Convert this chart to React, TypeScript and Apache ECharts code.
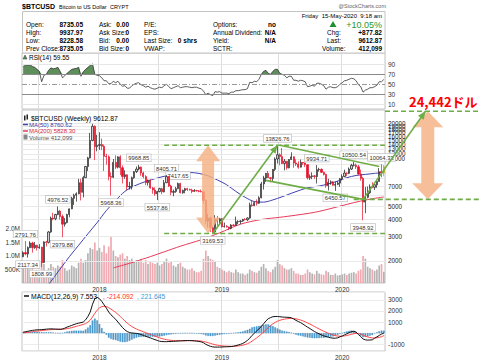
import React, { useEffect, useRef } from "react";
import * as echarts from "echarts";

const FF = "'Liberation Sans', Arial, sans-serif";
const JP = "'Noto Sans CJK JP', 'Liberation Sans', sans-serif";

const START_UTC = Date.UTC(2017, 4, 15);
const WEEK_MS = 7 * 24 * 3600 * 1000;
const N = 157;
const weeks: string[] = Array.from({ length: N }, (_, i) =>
  new Date(START_UTC + i * WEEK_MS).toISOString().slice(0, 10)
);

const opens = [
  2150, 2300, 2250, 2500, 2700, 2500, 2600, 2500, 2520, 1950,
  2750, 2730, 3250, 4100, 4050, 4350, 4600, 4200, 3700, 3800,
  4350, 4780, 5700, 6000, 6150, 7400, 6300, 8050, 9700, 11200,
  15000, 19000, 13500, 13800, 14000, 13600, 11500, 11400, 8200, 8100,
  10400, 9600, 11400, 9500, 8200, 8450, 6900, 6950, 8050, 8900,
  9300, 9600, 8700, 8200, 7400, 7700, 6780, 6550, 6150, 6380,
  6700, 6350, 7400, 8200, 7000, 6300, 6400, 6700, 7300, 6250,
  6500, 6700, 6600, 6550, 6400, 6500, 6450, 6400, 6350, 5500,
  3900, 4100, 3500, 3250, 4000, 3900, 4050, 3550, 3560, 3530,
  3450, 3650, 3620, 3850, 3870, 3900, 4000, 3980, 4100, 5100,
  5050, 5300, 5250, 5750, 7250, 8000, 8650, 8050, 7950, 9250,
  11000, 11800, 11450, 10200, 10600, 9500, 10900, 11400, 10300, 10100,
  9600, 10400, 10300, 10000, 8050, 8200, 8300, 8200, 9200, 9250,
  8800, 8500, 7050, 7450, 7500, 7100, 7200, 7350, 7900, 8200,
  8700, 8650, 9300, 9900, 9920, 9650, 8550, 7950, 5350, 5800,
  6250, 6900, 6850, 7150, 7550, 8900, 8735.05,
];
const highs = [
  2350, 2791.76, 2550, 2780, 2760, 2750, 2620, 2650, 2540, 2780,
  2800, 3300, 4200, 4480, 4400, 4976.52, 4700, 4350, 4100, 4400,
  4800, 5850, 6150, 6300, 7900, 7900, 8300, 9800, 11400, 17000,
  19800, 19300, 16500, 17200, 15500, 14000, 12000, 11700, 8800, 11000,
  11700, 11500, 11700, 9900, 9100, 8500, 7500, 8200, 9000, 9700,
  9968.85, 9700, 8900, 8400, 7800, 7780, 6900, 6850, 6450, 6800,
  6800, 7750, 8405.71, 8250, 7150, 6600, 6900, 7417.65, 7400, 6600,
  6800, 6800, 6700, 6700, 6650, 6550, 6550, 6600, 6400, 5600,
  4400, 4200, 3600, 4300, 4250, 4100, 4100, 3800, 3650, 3550,
  3700, 3700, 4200, 3950, 3950, 4050, 4100, 4150, 5300, 5450,
  5400, 5600, 5900, 7500, 8300, 8700, 9000, 8100, 9300, 11300,
  13826.76, 12100, 13200, 11000, 10650, 11000, 12300, 11500, 10950, 10600,
  10900, 10450, 10350, 10050, 8500, 8800, 8400, 9934.71, 9500, 9400,
  8900, 8600, 7900, 7700, 7600, 7500, 7600, 8000, 8500, 9200,
  8800, 9550, 10150, 10500.54, 10200, 9950, 9200, 8150, 6900, 6950,
  7200, 7450, 7250, 7700, 9450, 10064.33, 9937.97,
];
const lows = [
  2130, 2200, 2117.34, 2480, 2300, 2450, 2380, 2450, 1808.99, 1930,
  2550, 2680, 3200, 3950, 3950, 4300, 4000, 2979.88, 3550, 3750,
  4150, 4750, 5100, 5400, 6100, 5500, 5800, 8000, 9000, 11100,
  14800, 10800, 12500, 12800, 12800, 9000, 10000, 7700, 5968.36, 8000,
  9300, 9400, 8400, 7300, 7900, 6550, 6600, 6600, 7900, 8700,
  9100, 8300, 7950, 7100, 7050, 6700, 6150, 5950, 5537.86, 6300,
  6100, 6300, 7350, 6900, 6000, 5900, 6250, 6650, 6200, 6150,
  6200, 6450, 6500, 6200, 6350, 6400, 6300, 6300, 5200, 3700,
  3500, 3250, 3169.53, 3200, 3600, 3700, 3500, 3500, 3500, 3350,
  3400, 3580, 3600, 3700, 3700, 3850, 3950, 3900, 4050, 4950,
  5000, 5050, 5200, 5700, 6600, 7500, 8000, 7450, 7550, 9000,
  10200, 9900, 10100, 9100, 9200, 9400, 10850, 9500, 9800, 9350,
  9550, 9950, 9600, 7800, 7750, 7850, 7900, 7300, 8900, 8700,
  8350, 6800, 6500, 7150, 7050, 6450.57, 7100, 6900, 7700, 8100,
  8250, 8550, 9150, 9700, 9300, 8450, 7650, 3948.92, 4450, 5700,
  6150, 6750, 6550, 6800, 7550, 8100, 8228.58,
];
const closes = [
  2300, 2250, 2500, 2700, 2500, 2600, 2500, 2520, 1950, 2750,
  2730, 3250, 4100, 4050, 4350, 4600, 4200, 3700, 3800, 4350,
  4780, 5700, 6000, 6150, 7400, 6300, 8050, 9700, 11200, 15000,
  19000, 13500, 13800, 14000, 13600, 11500, 11400, 8200, 8100, 10400,
  9600, 11400, 9500, 8200, 8450, 6900, 6950, 8050, 8900, 9300,
  9600, 8700, 8200, 7400, 7700, 6780, 6550, 6150, 6380, 6700,
  6350, 7400, 8200, 7000, 6300, 6400, 6700, 7300, 6250, 6500,
  6700, 6600, 6550, 6400, 6500, 6450, 6400, 6350, 5500, 3900,
  4100, 3500, 3250, 4000, 3900, 4050, 3550, 3560, 3530, 3450,
  3650, 3620, 3850, 3870, 3900, 4000, 3980, 4100, 5100, 5050,
  5300, 5250, 5750, 7250, 8000, 8650, 8050, 7950, 9250, 11000,
  11800, 11450, 10200, 10600, 9500, 10900, 11400, 10300, 10100, 9600,
  10400, 10300, 10000, 8050, 8200, 8300, 8200, 9200, 9250, 8800,
  8500, 7050, 7450, 7500, 7100, 7200, 7350, 7900, 8200, 8700,
  8650, 9300, 9900, 9920, 9650, 8550, 7950, 5350, 5800, 6250,
  6900, 6850, 7150, 7550, 8900, 8735.05, 9612.87,
];
// weekly volume, thousands
const volumesK = [
  600, 700, 550, 500, 650, 450, 400, 420, 800, 700,
  450, 550, 700, 600, 550, 650, 600, 850, 550, 450,
  500, 650, 600, 550, 750, 900, 750, 850, 1100, 1300,
  1250, 1500, 1200, 1300, 1150, 1400, 1100, 1350, 1700, 1200,
  1000, 950, 1050, 1100, 900, 1000, 850, 900, 800, 850,
  800, 900, 750, 850, 700, 800, 750, 700, 750, 650,
  700, 800, 900, 750, 800, 650, 600, 700, 750, 600,
  550, 500, 500, 550, 450, 400, 400, 450, 900, 1200,
  1000, 900, 850, 800, 600, 550, 500, 450, 400, 450,
  400, 380, 500, 400, 350, 350, 300, 350, 500, 450,
  400, 380, 450, 600, 700, 550, 450, 400, 500, 600,
  850, 700, 650, 550, 500, 500, 550, 450, 350, 350,
  300, 300, 350, 500, 400, 350, 320, 450, 350, 320,
  300, 450, 400, 300, 300, 350, 280, 300, 320, 350,
  300, 350, 380, 400, 350, 450, 500, 1000, 900, 600,
  550, 500, 450, 500, 650, 700, 412.099,
];
const rsi = [
  86, 88, 89, 89, 86, 84, 80, 76, 55, 68,
  70, 78, 83, 81, 82, 84, 76, 63, 67, 72,
  76, 80, 81, 82, 84, 66, 75, 80, 84, 88,
  91, 70, 68, 67, 63, 57, 57, 51, 51, 56,
  53, 56, 50, 46, 47, 42, 42, 47, 50, 52,
  53, 49, 47, 44, 46, 43, 41, 40, 42, 44,
  43, 47, 50, 45, 41, 43, 45, 47, 43, 44,
  45, 45, 44, 43, 44, 44, 42, 41, 36, 29,
  32, 29, 27, 35, 34, 35, 32, 32, 32, 31,
  34, 34, 37, 37, 38, 39, 39, 41, 54, 53,
  56, 55, 60, 70, 76, 78, 72, 70, 76, 80,
  80, 72, 70, 68, 63, 66, 66, 58, 58, 56,
  58, 57, 55, 45, 46, 48, 46, 52, 52, 50,
  47, 40, 44, 45, 43, 43, 45, 50, 53, 57,
  58, 60, 62, 61, 57, 49, 45, 34, 38, 40,
  43, 43, 45, 48, 55, 55, 59.55,
];
const macd = [
  90, 130, 170, 210, 250, 280, 300, 310, 320, 340,
  360, 380, 390, 380, 370, 360, 350, 380, 450, 550,
  620, 700, 780, 850, 900, 950, 1000, 1200, 1500, 1900,
  2600, 3100, 3220, 3100, 2850, 2550, 2250, 1900, 1650, 1450,
  1250, 1000, 750, 500, 300, 150, 60, 20, 0, -20,
  -60, -120, -200, -280, -350, -420, -500, -580, -650, -720,
  -750, -760, -760, -750, -740, -730, -720, -700, -690, -680,
  -670, -660, -660, -670, -690, -710, -740, -780, -860, -1000,
  -1100, -1180, -1230, -1250, -1250, -1250, -1240, -1230, -1220, -1210,
  -1200, -1170, -1120, -1060, -1000, -920, -800, -650, -450, -200,
  0, 200, 400, 600, 850, 1100, 1300, 1400, 1480, 1500,
  1500, 1480, 1450, 1440, 1430, 1420, 1380, 1280, 1150, 1050,
  950, 820, 680, 540, 420, 280, 150, 40, -60, -150,
  -240, -300, -360, -410, -450, -450, -420, -330, -250, -150,
  -50, 50, 140, 170, 100, -120, -300, -520, -600, -620,
  -610, -600, -450, -330, -200, -80, 7.553,
];
const signal = [
  34, 53, 76, 103, 132, 162, 190, 214, 235, 256,
  277, 298, 316, 329, 337, 342, 344, 351, 371, 407,
  450, 500, 556, 615, 672, 728, 782, 866, 993, 1174,
  1459, 1787, 2074, 2279, 2393, 2424, 2389, 2291, 2163, 2020,
  1866, 1693, 1504, 1303, 1102, 912, 742, 598, 478, 378,
  290, 208, 126, 45, -34, -111, -189, -267, -344, -419,
  -485, -540, -584, -617, -642, -660, -672, -678, -680, -680,
  -678, -674, -671, -671, -675, -682, -694, -711, -741, -793,
  -854, -919, -981, -1035, -1078, -1112, -1138, -1156, -1169, -1177,
  -1182, -1180, -1168, -1146, -1117, -1078, -1022, -948, -848, -718,
  -575, -420, -256, -85, 102, 302, 501, 681, 841, 973,
  1078, 1158, 1217, 1261, 1295, 1320, 1332, 1322, 1287, 1240,
  1182, 1110, 1024, 927, 826, 717, 603, 491, 381, 275,
  172, 78, -10, -90, -162, -220, -260, -274, -269, -245,
  -206, -155, -96, -43, -14, -35, -88, -174, -260, -332,
  -387, -430, -434, -413, -371, -313, -214.092,
];
// moving averages read at sampled weeks: [weekIndex, value]
const ma50Pts = [
  [8, 1150], [12, 1420], [16, 1750], [20, 2150], [24, 2600], [28, 3150], [32, 3800],
  [36, 4650], [40, 5500], [44, 6400], [48, 7000], [53, 7550], [58, 8000], [63, 8380],
  [68, 8650], [72, 8780], [76, 8650], [80, 8300], [84, 7750], [88, 7150], [92, 6400],
  [96, 5800], [100, 5400], [104, 5350], [108, 5550], [112, 5850], [116, 6200], [120, 6550],
  [124, 6850], [128, 7000], [132, 7250], [136, 7600], [140, 8050], [144, 8350], [148, 8500],
  [152, 8650], [156, 8760.62],
];
const ma200Pts = [
  [39, 1782], [44, 1880], [48, 1970], [55, 2150], [61, 2330], [68, 2560], [77, 2850],
  [85, 3200], [94, 3700], [103, 4000], [111, 4150], [118, 4300], [124, 4450], [128, 4580],
  [134, 4850], [140, 5150], [146, 5450], [152, 5700], [156, 5828.3],
];

const priceTicks = [2000, 3000, 4000, 5000, 6000, 7000, 8000, 9000, 10000, 11000, 12000, 13000, 14000, 15000, 16000, 17000, 18000, 19000, 20000];
// tick labels hidden behind the last-value boxes in the reference
const priceTicksCovered = [6000, 8000, 9000, 10000];
const rsiTicks = [10, 30, 50, 70, 90];
const macdTicks = [-1000, 1000, 2000, 3000];
const volTickValues = [500000, 1000000, 1500000, 2000000];
const volTickLabels = ["500K", "1.0M", "1.5M", "2.0M"];

const swingIdx = [1, 2, 8, 15, 17, 38, 50, 58, 62, 67, 82, 110, 127, 135, 143, 147, 155];
const swingPos = ["top", "bottom", "bottom", "top", "bottom", "bottom", "top", "bottom", "top", "top", "bottom", "top", "top", "bottom", "top", "bottom", "top"];

// drawn annotation (measured move)
const moveTop = 13826.76;
const moveBottom = 3169.53;
const targetTop = 24442;
const targetBase = 5603;
const upperChannel = [[111, 13826.76], [154, 9700]];
const lowerChannel = [[105, 7690], [147, 5603]];

function isFirstWeekOf(i: number, months: number[]) {
  if (i <= 0) return false;
  const m = +weeks[i].slice(5, 7) - 1;
  const pm = +weeks[i - 1].slice(5, 7) - 1;
  return months.includes(m) && m !== pm;
}

function xAxis(gi: number, labels: boolean) {
  return {
    type: "category",
    gridIndex: gi,
    data: weeks,
    boundaryGap: true,
    axisLine: { show: false },
    axisTick: { show: false },
    axisLabel: {
      show: labels,
      interval: (i: number) => isFirstWeekOf(i, [0]),
      formatter: (v: string) => v.slice(0, 4),
      fontSize: 6.5,
      color: "#333",
      margin: 3,
      fontFamily: FF,
    },
    splitLine: {
      show: true,
      interval: (i: number) => isFirstWeekOf(i, [0, 6]),
      lineStyle: { color: "#dddddd", width: 1 },
    },
  };
}

function box(value: number, text: string, border: string, color: string, dy = 0, bold = false) {
  return {
    yAxis: value,
    lineStyle: { width: 0, opacity: 0 },
    label: {
      show: true,
      position: "end",
      formatter: text,
      color,
      fontSize: 6.5,
      fontFamily: FF,
      fontWeight: bold ? "bold" : "normal",
      backgroundColor: "#ffffff",
      borderColor: border,
      borderWidth: 1,
      borderRadius: 1,
      padding: [1, 2, 0, 2],
      distance: -2,
      offset: [0, dy],
    },
  };
}

function hline(value: number, color: string, type: any = "solid", width = 1) {
  return { yAxis: value, lineStyle: { color, type, width }, label: { show: false } };
}

function buildOption(): any {
  const candleData = weeks.map((_, i) => {
    const v = [opens[i], closes[i], lows[i], highs[i]];
    if (i === N - 1) {
      return { value: v, itemStyle: { color: "#ffe800", color0: "#ffe800", borderColor: "#b89c00", borderColor0: "#b89c00" } };
    }
    return v;
  });
  return {
    animation: false,
    backgroundColor: "#ffffff",
    textStyle: { fontFamily: FF },
    grid: [
      { left: 22, right: 95, top: 53, height: 56, show: true, borderColor: "#c4c4c4", borderWidth: 1, backgroundColor: "transparent" },
      { left: 22, right: 95, top: 110, height: 173, show: true, borderColor: "#c4c4c4", borderWidth: 1, backgroundColor: "transparent" },
      { left: 22, right: 95, top: 292, height: 59, show: true, borderColor: "#c4c4c4", borderWidth: 1, backgroundColor: "transparent" },
    ],
    xAxis: [xAxis(0, false), xAxis(1, true), xAxis(2, true)],
    yAxis: [
      {
        gridIndex: 0, type: "value", position: "right", min: 0, max: 113, interval: 10,
        axisLine: { show: false }, axisTick: { show: false }, splitLine: { show: false },
        axisLabel: { formatter: (v: number) => (rsiTicks.includes(v) ? String(v) : ""), fontSize: 6.5, color: "#333", margin: 3, showMaxLabel: false, fontFamily: FF },
      },
      {
        gridIndex: 1, type: "log", logBase: 10, position: "right", min: 1384, max: 24950,
        axisLine: { show: false }, axisTick: { show: false }, splitLine: { show: false }, axisLabel: { show: false },
      },
      {
        gridIndex: 1, type: "value", position: "left", min: 0, max: 6400000, interval: 500000,
        axisLine: { show: false }, axisTick: { show: false }, splitLine: { show: false },
        axisLabel: {
          formatter: (v: number) => { const k = volTickValues.indexOf(v); return k >= 0 ? volTickLabels[k] : ""; },
          fontSize: 6.5, color: "#333", margin: 2, showMaxLabel: false, fontFamily: FF,
        },
      },
      {
        gridIndex: 2, type: "value", position: "right", min: -1600, max: 3700, splitNumber: 5,
        axisLine: { show: false }, axisTick: { show: false },
        splitLine: { show: true, lineStyle: { color: "#ececec" } },
        axisLabel: { formatter: (v: number) => (macdTicks.includes(v) ? String(v) : ""), fontSize: 6.5, color: "#333", margin: 3, showMaxLabel: false, showMinLabel: false, fontFamily: FF },
      },
    ],
    series: [
      { type: "line", xAxisIndex: 0, yAxisIndex: 0, stack: "rsi", data: rsi.map(() => 70), symbol: "none", lineStyle: { opacity: 0 }, silent: true, z: 2 },
      { type: "line", xAxisIndex: 0, yAxisIndex: 0, stack: "rsi", data: rsi.map((v) => Math.max(v - 70, 0)), symbol: "none", lineStyle: { opacity: 0 }, areaStyle: { color: "#5e8f5b", opacity: 1 }, silent: true, z: 2 },
      {
        type: "line", xAxisIndex: 0, yAxisIndex: 0, data: rsi, symbol: "none", lineStyle: { color: "#333", width: 0.8 }, silent: true, z: 3,
        markLine: {
          silent: true, symbol: ["none", "none"],
          data: [hline(90, "#e6e6e6"), hline(10, "#e6e6e6"), hline(70, "#8a8a8a"), hline(30, "#8a8a8a"), hline(50, "#9a9a9a", [5, 2, 1, 2]), box(59.55, "59.55", "#555", "#000")],
        },
      },
      {
        type: "bar", xAxisIndex: 1, yAxisIndex: 2, barWidth: "72%", silent: true, z: 1,
        data: volumesK.map((v, i) => ({ value: v * 1000, itemStyle: { color: closes[i] >= opens[i] ? "#b3b3b3" : "#f0a9b0" } })),
        markLine: { silent: true, symbol: ["none", "none"], data: [box(412099, "412099", "#333", "#000")] },
      },
      {
        type: "line", xAxisIndex: 1, yAxisIndex: 1, data: ma200Pts, symbol: "none", smooth: 0.3, silent: true, z: 4,
        lineStyle: { color: "#e83a5a", width: 1 },
        markLine: { silent: true, symbol: ["none", "none"], data: [box(5828.3, "5828.30", "#e83a5a", "#c02040")] },
      },
      {
        type: "line", xAxisIndex: 1, yAxisIndex: 1, data: ma50Pts, symbol: "none", smooth: 0.3, silent: true, z: 4,
        lineStyle: { color: "#4040b0", width: 1 },
        markLine: { silent: true, symbol: ["none", "none"], data: [box(8760.62, "8760.62", "#4040b0", "#3030a0", 5)] },
      },
      {
        type: "candlestick", xAxisIndex: 1, yAxisIndex: 1, data: candleData, barWidth: 1.7, silent: true, z: 5,
        itemStyle: { color: "#cfcfcf", color0: "#e8102a", borderColor: "#1a1a1a", borderColor0: "#e8102a", borderWidth: 0.7 },
        markLine: {
          silent: true, symbol: ["none", "none"],
          data: [
            ...priceTicks.map((v) => ({
              yAxis: v,
              lineStyle: { color: "#e9e9e9", width: 1, type: "solid" },
              label: { show: !priceTicksCovered.includes(v), position: "end", formatter: String(v), color: "#222", fontSize: 6.3, distance: 3, fontFamily: FF },
            })),
            box(9612.87, "9612.87", "#000", "#000", -1, true),
          ],
        },
        markPoint: {
          silent: true, symbol: "circle", symbolSize: 1, itemStyle: { color: "rgba(0,0,0,0)" },
          label: { show: true, fontSize: 5.8, color: "#333", backgroundColor: "#ffffff", borderColor: "#b5b5b5", borderWidth: 0.6, padding: [1, 1.5, 0, 1.5], fontFamily: FF },
          data: swingIdx.map((ix, k) => {
            const v = swingPos[k] === "top" ? highs[ix] : lows[ix];
            return { coord: [ix, v], value: v, label: { position: swingPos[k], distance: 3, formatter: v.toFixed(2) } };
          }),
        },
      },
      {
        type: "bar", xAxisIndex: 2, yAxisIndex: 3, barWidth: "70%", silent: true, z: 2,
        data: macd.map((m, i) => +(m - signal[i]).toFixed(3)),
        itemStyle: { color: "#4d9fd3", borderColor: "#2f7fb3", borderWidth: 0.3 },
      },
      {
        type: "line", xAxisIndex: 2, yAxisIndex: 3, data: signal, symbol: "none", silent: true, z: 3,
        lineStyle: { color: "#ff4848", width: 1 },
        markLine: { silent: true, symbol: ["none", "none"], data: [box(-214.092, "-214.092", "#ff4848", "#e02020", 3)] },
      },
      {
        type: "line", xAxisIndex: 2, yAxisIndex: 3, data: macd, symbol: "none", silent: true, z: 4,
        lineStyle: { color: "#111", width: 1 },
        markLine: { silent: true, symbol: ["none", "none"], data: [box(221.645, "221.645", "#5aa6d8", "#333", -1), box(7.553, "7.553", "#777", "#000", 2)] },
      },
    ],
  };
}

function T(text: string, x: number, y: number, o: any = {}) {
  const font = `${o.bold ? "bold " : ""}${o.size ?? 7}px ${o.family ?? FF}`;
  return {
    type: "text", z: 60, silent: true,
    style: {
      text, x, y, font, fill: o.fill ?? "#000",
      textAlign: o.align ?? "left", textVerticalAlign: "middle",
      align: o.align ?? "left", verticalAlign: "middle",
    },
  };
}

function dblArrow(cx: number, ty: number, by: number, hw: number, sw: number, hl: number) {
  return {
    type: "polygon", z: 40, silent: true,
    shape: {
      points: [
        [cx, ty], [cx + hw / 2, ty + hl], [cx + sw / 2, ty + hl], [cx + sw / 2, by - hl], [cx + hw / 2, by - hl],
        [cx, by], [cx - hw / 2, by - hl], [cx - sw / 2, by - hl], [cx - sw / 2, ty + hl], [cx - hw / 2, ty + hl],
      ],
    },
    style: { fill: "#f4b183", opacity: 0.82 },
  };
}

function gline(a: number[], b: number[], dash = false) {
  return {
    type: "line", z: 45, silent: true,
    shape: { x1: a[0], y1: a[1], x2: b[0], y2: b[1] },
    style: { stroke: "#6fad47", lineWidth: 1.6, lineDash: dash ? [5, 3] : null },
  };
}

function head(a: number[], b: number[]) {
  const dx = b[0] - a[0], dy = b[1] - a[1];
  const L = Math.hypot(dx, dy) || 1;
  const ux = dx / L, uy = dy / L;
  const len = 8, w = 7;
  const bx = b[0] - ux * len, by = b[1] - uy * len;
  return {
    type: "polygon", z: 46, silent: true,
    shape: { points: [[b[0], b[1]], [bx - (uy * w) / 2, by + (ux * w) / 2], [bx + (uy * w) / 2, by - (ux * w) / 2]] },
    style: { fill: "#6fad47" },
  };
}

function buildGraphics(chart: any) {
  const p = (i: number, v: number) => chart.convertToPixel({ xAxisIndex: 1, yAxisIndex: 1 }, [i, v]) as number[];
  const R = 385;
  const yTop = p(0, moveTop)[1];
  const yBot = p(0, moveBottom)[1];
  const yTarget = p(0, targetTop)[1];
  const yBase = p(0, targetBase)[1];
  const a1s = p(82, moveBottom);
  const a1e = p(110, moveTop);
  const uc0 = p(upperChannel[0][0], upperChannel[0][1]);
  const uc1 = p(upperChannel[1][0], upperChannel[1][1]);
  const lc0 = p(lowerChannel[0][0], lowerChannel[0][1]);
  const lc1 = p(lowerChannel[1][0], lowerChannel[1][1]);
  const a2e = p(174, targetTop);
  const xDash = p(61, moveTop)[0];
  const xBaseDash = p(143, targetBase)[0];
  const xLeftArrow = p(80, moveTop)[0];
  const xRightArrow = p(175, targetTop)[0];

  const g: any[] = [];
  // header
  g.push(T("$BTCUSD", 22, 6, { bold: true, size: 7 }));
  g.push(T("Bitcoin to US Dollar", 59, 6.5, { size: 5.5 }));
  g.push(T("CRYPT", 110, 6.5, { size: 5.5 }));
  g.push(T("@StockCharts.com", 386, 5.5, { size: 5.5, fill: "#666", align: "right" }));
  g.push({ type: "rect", z: 10, silent: true, shape: { x: 22.5, y: 11.5, width: 362.5, height: 41.5 }, style: { fill: "#fff", stroke: "#c4c4c4", lineWidth: 1 } });
  const rows = [24, 32, 40, 48];
  const c1 = ["Open:", "High:", "Low:", "Prev Close:"];
  const v1 = ["8735.05", "9937.97", "8228.58", "8735.05"];
  const c2 = ["Ask:", "Ask Size:", "Bid:", "Bid Size:"];
  const v2 = ["0.00", "0", "0.00", "0"];
  const c3 = ["P/E:", "EPS:", "Last Size:", "VWAP:"];
  const v3 = ["", "", "0 shrs", ""];
  const c4 = ["Options:", "Annual Dividend:", "Yield:", "SCTR:"];
  const v4 = ["no", "N/A", "N/A", ""];
  rows.forEach((y, r) => {
    g.push(T(c1[r], 26, y, { size: 6.5 }));
    g.push(T(v1[r], 83, y, { size: 6.5, bold: true, align: "right" }));
    g.push(T(c2[r], 99, y, { size: 6.5 }));
    g.push(T(v2[r], 129, y, { size: 6.5, bold: true, align: "right" }));
    g.push(T(c3[r], 144, y, { size: 6.5 }));
    if (v3[r]) g.push(T(v3[r], 197, y, { size: 6.5, bold: true, align: "right" }));
    g.push(T(c4[r], 213, y, { size: 6.5 }));
    if (v4[r]) g.push(T(v4[r], 276, y, { size: 6.5, bold: true, align: "right" }));
  });
  g.push(T("Friday  15-May-2020  9:18 am", 382, 16, { size: 6, align: "right" }));
  g.push({ type: "polygon", z: 60, silent: true, shape: { points: [[333, 21], [336.5, 27], [329.5, 27]] }, style: { fill: "#1f8f2f" } });
  g.push(T("+10.05%", 382, 24.5, { size: 9, fill: "#1f9a2f", align: "right" }));
  g.push(T("Chg:", 327, 32, { size: 6.5 }));
  g.push(T("+877.82", 382, 32, { size: 6.5, bold: true, align: "right" }));
  g.push(T("Last:", 327, 40, { size: 6.5 }));
  g.push(T("9612.87", 382, 40, { size: 6.5, bold: true, align: "right" }));
  g.push(T("Volume:", 322, 48, { size: 6.5 }));
  g.push(T("412,099", 382, 48, { size: 6.5, bold: true, align: "right" }));

  // panel legends
  g.push({ type: "polygon", z: 60, silent: true, shape: { points: [[23, 59], [25, 55], [27, 59]] }, style: { fill: "#5e8f5b", stroke: "#333", lineWidth: 0.5 } });
  g.push(T("RSI(14) 59.55", 29, 57, { size: 6.5 }));
  g.push({ type: "rect", z: 60, silent: true, shape: { x: 24, y: 115.5, width: 1.5, height: 5 }, style: { fill: "#222" } });
  g.push({ type: "rect", z: 60, silent: true, shape: { x: 26.5, y: 114.5, width: 1.5, height: 5 }, style: { fill: "#222" } });
  g.push(T("$BTCUSD (Weekly) 9612.87", 31, 118, { size: 6.8 }));
  g.push({ type: "line", z: 60, silent: true, shape: { x1: 23, y1: 124.5, x2: 28, y2: 124.5 }, style: { stroke: "#4040b0", lineWidth: 1.5 } });
  g.push(T("MA(50) 8760.62", 29, 124.5, { size: 6, fill: "#3838a8" }));
  g.push({ type: "line", z: 60, silent: true, shape: { x1: 23, y1: 131, x2: 28, y2: 131 }, style: { stroke: "#e83a5a", lineWidth: 1.5 } });
  g.push(T("MA(200) 5828.30", 29, 131, { size: 6, fill: "#d8284a" }));
  g.push({ type: "rect", z: 60, silent: true, shape: { x: 23.5, y: 134.5, width: 4, height: 5 }, style: { fill: "#888" } });
  g.push(T("Volume 412,099", 29, 137.5, { size: 6, fill: "#555" }));
  g.push({ type: "line", z: 60, silent: true, shape: { x1: 24, y1: 296, x2: 29, y2: 296 }, style: { stroke: "#111", lineWidth: 1.5 } });
  g.push(T("MACD(12,26,9) 7.553", 31, 296, { size: 6.8 }));
  g.push(T(", -214.092", 103, 296, { size: 6.8, fill: "#ff3030" }));
  g.push(T(", 221.645", 137, 296, { size: 6.8, fill: "#3a9ad9" }));

  // measured-move annotation
  g.push(gline([xDash, yTop], [R, yTop], true));
  g.push(gline([xDash, yBot], [R, yBot], true));
  g.push(gline([R, yTarget], [480, yTarget], true));
  g.push(gline([xBaseDash, yBase], [480, yBase], true));
  g.push(dblArrow(xLeftArrow, yTop, yBot, 24, 12, 16));
  g.push(dblArrow(xRightArrow, yTarget, yBase, 31, 13, 16));
  g.push(gline(a1s, a1e));
  g.push(head(a1s, a1e));
  g.push(gline(uc0, uc1));
  g.push(gline(lc0, lc1));
  g.push(gline(lc1, a2e));
  g.push(head(lc1, a2e));
  g.push(T("24,442ドル", 409, yTarget - 10, { size: 13, bold: true, fill: "#ff0000", family: JP }));
  return g;
}

export default function App() {
  const ref = useRef<HTMLDivElement>(null);
  useEffect(() => {
    const chart = echarts.init(ref.current as HTMLDivElement, undefined, { renderer: "svg" });
    chart.setOption(buildOption());
    chart.setOption({ graphic: buildGraphics(chart) });
    return () => chart.dispose();
  }, []);
  return <div ref={ref} style={{ position: "fixed", left: 0, top: 0, width: 480, height: 361, background: "#fff" }} />;
}
